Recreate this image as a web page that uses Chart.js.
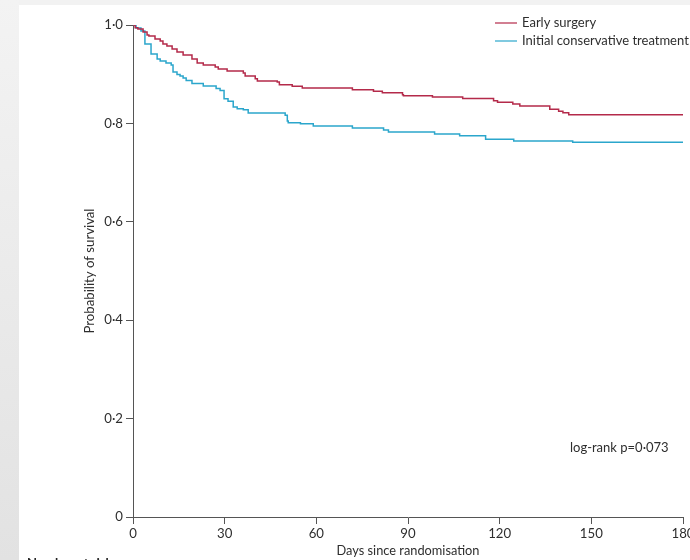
<!DOCTYPE html>
<html>
<head>
<meta charset="utf-8">
<script src="https://cdn.jsdelivr.net/npm/chart.js@4.4.1/dist/chart.umd.min.js"></script>
<style>
  body { margin: 0; width: 690px; height: 560px; overflow: hidden; background: #f2f2f2; position: relative; font-family: Lato, sans-serif; }
  #leftStrip { position: absolute; left: 0; top: 0; width: 19px; height: 560px; background: linear-gradient(#f3f3f3, #e2e2e2); }
  #panel { position: absolute; left: 19px; top: 5px; width: 671px; height: 555px; background: #fff; }
  #wrap { position: absolute; left: 0; top: 0; width: 690px; height: 560px; }
  #risk { position: absolute; left: 27px; top: 555px; font-size: 13px; font-weight: bold; color: #222; white-space: nowrap; }
</style>
</head>
<body>
<div id="leftStrip"></div>
<div id="panel"></div>
<div id="wrap"><canvas id="km" width="690" height="560"></canvas></div>
<div id="risk">Number at risk</div>
<script>
// Kaplan-Meier steps (days, survival after the step)
const earlyDays = [0, 0.7, 1.6, 3.3, 4.6, 5.2, 7.2, 8.9, 9.8, 11.1, 12.8, 14.4, 16.4, 19.3, 21.0, 23.0, 26.9, 27.9, 30.8, 36.1, 36.7, 40.0, 40.7, 47.2, 47.9, 52.1, 55.4, 71.8, 78.7, 81.6, 88.2, 88.5, 98.0, 107.9, 118.0, 119.3, 124.3, 126.6, 136.4, 139.3, 140.7, 142.6, 180];
const earlySurv = [1, 0.9945, 0.9919, 0.9858, 0.9797, 0.9776, 0.9715, 0.9675, 0.9614, 0.9573, 0.9512, 0.9451, 0.9390, 0.9309, 0.9228, 0.9187, 0.9146, 0.9106, 0.9065, 0.9024, 0.8963, 0.8909, 0.8862, 0.8841, 0.8787, 0.8754, 0.8720, 0.8685, 0.8652, 0.8624, 0.8583, 0.8560, 0.8535, 0.8506, 0.8461, 0.8429, 0.8394, 0.8354, 0.8287, 0.8246, 0.8218, 0.8177, 0.8177];

const consDays = [0, 1.0, 2.6, 3.9, 5.9, 7.9, 8.9, 10.8, 12.5, 13.1, 14.4, 15.4, 16.4, 17.4, 19.3, 23.0, 27.2, 28.5, 29.8, 31.1, 32.8, 34.1, 36.1, 37.7, 49.8, 50.5, 50.8, 54.8, 59.0, 71.8, 82.0, 83.6, 98.7, 106.9, 115.4, 124.6, 143.9, 180];
const consSurv = [1, 0.9939, 0.9878, 0.9614, 0.9411, 0.9309, 0.9268, 0.9228, 0.9187, 0.9045, 0.8994, 0.8963, 0.8923, 0.8872, 0.8811, 0.8760, 0.8709, 0.8669, 0.8502, 0.8449, 0.8333, 0.8299, 0.8278, 0.8211, 0.8165, 0.8049, 0.8014, 0.7994, 0.7947, 0.7907, 0.7866, 0.7825, 0.7785, 0.7750, 0.7677, 0.7642, 0.7616, 0.7616];

const seriesNames = ['Early surgery', 'Initial conservative treatment'];
const xTicks = [0, 30, 60, 90, 120, 150, 180];
const yTicks = [0, 0.2, 0.4, 0.6, 0.8, 1.0];

const RED = '#b42a4a';
const BLUE = '#2ba6cc';
const AXIS = '#555';
const TXT = '#2e2e2e';
const FONT = 'Lato, sans-serif';
const FS = 13;

function toPoints(days, surv) {
  return days.map(function(d, i) { return {x: d, y: surv[i]}; });
}

function midDot(v) {
  if (v === 0) return '0';
  return v.toFixed(1).replace('.', '\u00b7');
}

// legend + log-rank note drawn on top of the plot
const notesPlugin = {
  id: 'notes',
  afterDraw(chart) {
    const ctx = chart.ctx;
    ctx.save();
    ctx.font = FS + 'px ' + FONT;
    ctx.textBaseline = 'middle';
    ctx.lineWidth = 1.2;
    [RED, BLUE].forEach(function(col, i) {
      const y = 23 + i * 18;
      ctx.strokeStyle = col;
      ctx.beginPath();
      ctx.moveTo(495, y);
      ctx.lineTo(517, y);
      ctx.stroke();
      ctx.fillStyle = TXT;
      ctx.fillText(seriesNames[i], 522, y);
    });
    ctx.fillText('log-rank p=0\u00b7073', 570, 448);
    ctx.restore();
  }
};

new Chart(document.getElementById('km'), {
  type: 'line',
  data: {
    datasets: [
      {
        label: seriesNames[0],
        data: toPoints(earlyDays, earlySurv),
        borderColor: RED,
        borderWidth: 1.5,
        stepped: 'before',
        pointRadius: 0,
        fill: false
      },
      {
        label: seriesNames[1],
        data: toPoints(consDays, consSurv),
        borderColor: BLUE,
        borderWidth: 1.5,
        stepped: 'before',
        pointRadius: 0,
        fill: false
      }
    ]
  },
  options: {
    responsive: false,
    animation: false,
    layout: { padding: { left: 78, top: 25, right: 7, bottom: 0 } },
    plugins: {
      legend: { display: false },
      tooltip: { enabled: false }
    },
    scales: {
      x: {
        type: 'linear',
        min: 0,
        max: 180,
        afterBuildTicks: function(scale) { scale.ticks = xTicks.map(function(v) { return {value: v}; }); },
        afterFit: function(scale) { scale.height = 43; scale.paddingLeft = 0; scale.paddingRight = 0; },
        grid: { drawOnChartArea: false, drawTicks: true, tickLength: 7, color: AXIS },
        border: { display: true, color: AXIS, width: 1 },
        ticks: { color: TXT, font: { family: FONT, size: 13.2 }, padding: 2, maxRotation: 0, autoSkip: false },
        title: { display: true, text: 'Days since randomisation', color: TXT, font: { family: FONT, size: 12.8 }, padding: { top: 0, bottom: 1 } }
      },
      y: {
        min: 0,
        max: 1,
        afterBuildTicks: function(scale) { scale.ticks = yTicks.map(function(v) { return {value: v}; }); },
        afterFit: function(scale) { scale.width = 55; },
        grid: { drawOnChartArea: false, drawTicks: true, tickLength: 7, color: AXIS },
        border: { display: true, color: AXIS, width: 1 },
        ticks: { color: TXT, font: { family: FONT, size: 13.2 }, padding: 3, callback: midDot },
        title: { display: true, text: 'Probability of survival', color: TXT, font: { family: FONT, size: 13.2 }, padding: { top: 4, bottom: 0 } }
      }
    }
  },
  plugins: [notesPlugin]
});
</script>
</body>
</html>
